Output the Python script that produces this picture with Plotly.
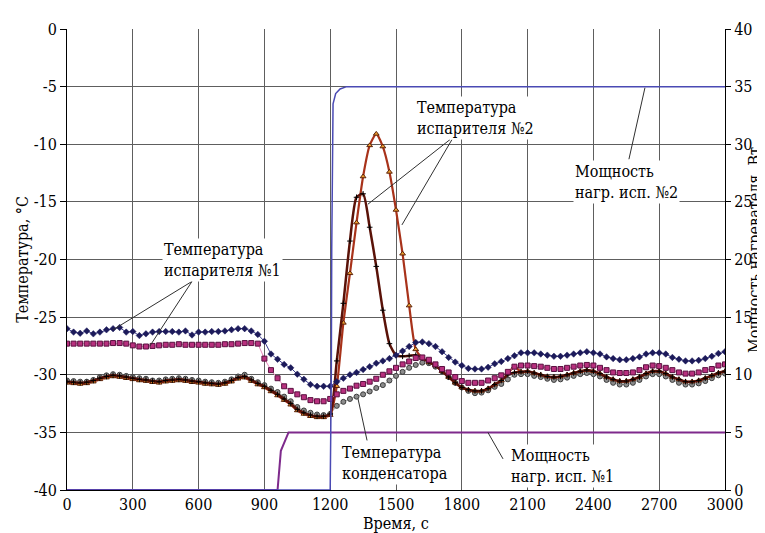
import plotly.graph_objects as go

# ---------------- data ----------------
time_s = list(range(0, 3001, 30))

evap1_a = [
    -26.0, -26.3, -26.4, -26.2, -26.45, -26.3, -26.1, -26.0, -25.9, -26.3,
    -26.25, -26.6, -26.45, -26.3, -26.25, -26.25, -26.25, -26.3, -26.2, -26.55,
    -26.3, -26.3, -26.25, -26.25, -26.2, -26.1, -26.0, -26.0, -26.2, -26.5,
    -27.1, -28.2, -28.65, -29.1, -29.4, -29.95, -30.4, -30.85, -31.0, -31.0,
    -31.0, -30.6, -30.3, -30.0, -29.8, -29.55, -29.3, -29.0, -28.8, -28.6,
    -28.3, -27.95, -27.55, -27.2, -27.15, -27.3, -27.55, -28.0, -28.5, -28.9,
    -29.2, -29.45, -29.5, -29.5, -29.35, -29.05, -28.85, -28.6, -28.35, -28.1,
    -28.1, -28.1, -28.2, -28.3, -28.4, -28.4, -28.3, -28.2, -28.1, -28.0,
    -28.1, -28.2, -28.45, -28.6, -28.7, -28.7, -28.6, -28.45, -28.2, -28.1,
    -28.1, -28.2, -28.5, -28.65, -28.8, -28.8, -28.75, -28.6, -28.4, -28.15,
    -28.0,
]

evap1_b = [
    -27.3, -27.3, -27.3, -27.3, -27.3, -27.3, -27.3, -27.25, -27.25, -27.3,
    -27.45, -27.55, -27.55, -27.5, -27.45, -27.4, -27.4, -27.35, -27.4, -27.4,
    -27.4, -27.4, -27.4, -27.4, -27.35, -27.35, -27.3, -27.25, -27.25, -27.3,
    -28.6, -29.6, -30.3, -31.0, -31.4, -31.7, -31.95, -32.2, -32.3, -32.3,
    -32.1, -31.7, -31.4, -31.2, -30.95, -30.8, -30.6, -30.35, -30.0, -29.7,
    -29.4, -29.1, -28.85, -28.55, -28.5, -28.7, -29.1, -29.5, -29.8, -30.2,
    -30.55, -30.7, -30.7, -30.7, -30.5, -30.3, -30.05, -29.75, -29.3, -29.2,
    -29.2, -29.25, -29.3, -29.4, -29.5, -29.5, -29.4, -29.3, -29.2, -29.15,
    -29.2, -29.4, -29.6, -29.8, -29.85, -29.85, -29.8, -29.6, -29.35, -29.2,
    -29.25, -29.4, -29.6, -29.8, -29.9, -29.9, -29.8, -29.6, -29.5, -29.2,
    -29.1,
]

evap2_a = [
    -30.6, -30.65, -30.7, -30.65, -30.5, -30.3, -30.15, -30.05, -30.1, -30.2,
    -30.3, -30.4, -30.45, -30.55, -30.6, -30.5, -30.45, -30.4, -30.45, -30.55,
    -30.6, -30.7, -30.75, -30.8, -30.7, -30.5, -30.25, -30.15, -30.45, -30.75,
    -31.0, -31.35, -31.7, -32.1, -32.5, -33.0, -33.3, -33.5, -33.6, -33.6,
    -33.4, -28.8, -23.8, -18.4, -14.6, -14.3, -17.2, -20.6, -24.4, -27.3,
    -28.3, -28.4, -28.35, -28.3, -28.55, -28.9, -29.2, -29.7, -30.2, -30.7,
    -31.1, -31.3, -31.4, -31.4, -31.2, -30.85, -30.5, -30.0, -29.8, -29.75,
    -29.7, -29.85, -30.0, -30.15, -30.2, -30.15, -30.0, -29.85, -29.7, -29.6,
    -29.7, -29.9, -30.2, -30.4, -30.55, -30.55, -30.4, -30.2, -29.9, -29.7,
    -29.7, -29.9, -30.2, -30.4, -30.6, -30.6, -30.5, -30.3, -30.07, -29.85,
    -29.7,
]

evap2_b = [
    -30.7, -30.75, -30.8, -30.75, -30.6, -30.4, -30.25, -30.15, -30.2, -30.3,
    -30.4, -30.5, -30.55, -30.65, -30.7, -30.6, -30.55, -30.5, -30.55, -30.65,
    -30.7, -30.8, -30.85, -30.9, -30.8, -30.6, -30.35, -30.25, -30.55, -30.85,
    -31.1, -31.45, -31.8, -32.2, -32.6, -33.1, -33.4, -33.6, -33.7, -33.7,
    -33.5, -31.0, -25.5, -21.2, -16.8, -12.8, -10.1, -9.1, -10.2, -12.4,
    -15.7, -19.5, -24.0, -27.8, -28.55, -28.9, -29.2, -29.7, -30.2, -30.7,
    -31.1, -31.3, -31.4, -31.4, -31.2, -30.85, -30.5, -29.9, -29.3, -29.75,
    -29.7, -29.85, -30.0, -30.15, -30.2, -30.15, -30.0, -29.85, -29.7, -29.6,
    -29.7, -29.9, -30.2, -30.4, -30.55, -30.55, -30.4, -30.2, -29.9, -29.7,
    -29.7, -29.9, -30.2, -30.4, -30.6, -30.6, -30.5, -30.3, -30.07, -29.85,
    -29.7,
]

condenser = [
    -30.5, -30.55, -30.6, -30.6, -30.45, -30.2, -30.05, -29.95, -30.0, -30.1,
    -30.2, -30.3, -30.35, -30.5, -30.5, -30.4, -30.35, -30.3, -30.35, -30.45,
    -30.5, -30.6, -30.65, -30.7, -30.6, -30.4, -30.15, -30.0, -30.35, -30.65,
    -30.9, -31.2, -31.5, -31.9, -32.3, -32.8, -33.1, -33.3, -33.45, -33.5,
    -33.4, -32.7, -32.35, -32.1, -31.9, -31.7, -31.45, -31.15, -30.9, -30.5,
    -30.1, -29.75, -29.4, -29.15, -28.95, -29.0, -29.3, -29.7, -30.2, -30.7,
    -31.1, -31.4, -31.6, -31.55, -31.35, -31.05, -30.8, -30.4, -30.0, -29.95,
    -29.95, -30.1, -30.2, -30.35, -30.45, -30.4, -30.25, -30.1, -29.95, -29.85,
    -29.95, -30.15, -30.45, -30.7, -30.85, -30.85, -30.7, -30.45, -30.15, -29.95,
    -29.95, -30.15, -30.45, -30.7, -30.85, -30.85, -30.75, -30.55, -30.3, -30.05,
    -29.9,
]

power1_t = [0, 960, 975, 1010, 3000]
power1_w = [0, 0, 3.4, 5, 5]

power2_t = [0, 1200, 1205, 1207, 1213, 1225, 1245, 1275, 3000]
power2_w = [0, 0, 10, 21, 33.5, 34.4, 34.8, 35, 35]

x_ticks = list(range(0, 3001, 300))
y_ticks = [-40, -35, -30, -25, -20, -15, -10, -5, 0]
y_tick_labels = ["-40", "-35", "-30", "-25", "-20", "-15", "-10", "-5", "0"]
y2_ticks = [0, 5, 10, 15, 20, 25, 30, 35, 40]

FONT = "DejaVu Serif Condensed, DejaVu Serif"
FS = 16

fig = go.Figure()

fig.add_trace(go.Scatter(x=power1_t, y=power1_w, yaxis="y2", mode="lines",
                         line=dict(color="#7e2a8c", width=2), showlegend=False))
fig.add_trace(go.Scatter(x=power2_t, y=power2_w, yaxis="y2", mode="lines",
                         line=dict(color="#4a4ab4", width=1.5), showlegend=False))

fig.add_trace(go.Scatter(x=time_s, y=condenser, mode="lines+markers",
                         line=dict(color="#a8a8a8", width=1),
                         marker=dict(symbol="circle", size=5, color="#8c8c8c",
                                     line=dict(color="#3c3c3c", width=1)),
                         showlegend=False))
fig.add_trace(go.Scatter(x=time_s, y=evap2_b, mode="lines+markers",
                         line=dict(color="#a8321a", width=2.2, shape="spline", smoothing=0.6),
                         marker=dict(symbol="triangle-up", size=5, color="#f0a030",
                                     line=dict(color="#5a2008", width=1)),
                         showlegend=False))
fig.add_trace(go.Scatter(x=time_s, y=evap2_a, mode="lines+markers",
                         line=dict(color="#5a1208", width=2.5, shape="spline", smoothing=0.6),
                         marker=dict(symbol="cross-thin", size=4, color="#000000",
                                     line=dict(color="#000000", width=1)),
                         showlegend=False))
fig.add_trace(go.Scatter(x=time_s, y=evap1_b, mode="lines+markers",
                         line=dict(color="#e888bc", width=1),
                         marker=dict(symbol="square", size=5, color="#b8307e",
                                     line=dict(color="#5a1040", width=1)),
                         showlegend=False))
fig.add_trace(go.Scatter(x=time_s, y=evap1_a, mode="lines+markers",
                         line=dict(color="#3a3a8c", width=1),
                         marker=dict(symbol="diamond", size=5, color="#1c1a5a",
                                     line=dict(color="#1c1a5a", width=0.5)),
                         showlegend=False))

# leader lines (data coordinates)
leaders = [
    (1746, -9.6, 1372, -15.2),
    (1755, -9.6, 1527, -17.0),
    (2562, -11.3, 2635, -5.1),
    (570, -21.9, 210, -26.1),
    (570, -21.9, 378, -27.5),
    (1368, -35.7, 1327, -32.1),
    (1988, -37.3, 1919, -35.0),
]
for x0, y0, x1, y1 in leaders:
    fig.add_shape(type="line", xref="x", yref="y", x0=x0, y0=y0, x1=x1, y1=y1,
                  line=dict(color="#303030", width=1), layer="above")

labels = [
    (1587, -7.74, "Температура<br>испарителя №2"),
    (2307, -13.28, "Мощность<br>нагр. исп. №2"),
    (433, -20.0, "Температура<br>испарителя №1"),
    (1245, -37.66, "Температура<br>конденсатора"),
    (2015, -37.96, "Мощность<br>нагр. исп. №1"),
]
for x, y, txt in labels:
    fig.add_annotation(x=x, y=y, xref="x", yref="y", text=txt, showarrow=False,
                       xanchor="left", yanchor="middle", align="left",
                       bgcolor="white", borderpad=1,
                       font=dict(family=FONT, size=FS, color="black"))

# axis titles
fig.add_annotation(x=0.5, y=-0.073, xref="paper", yref="paper", text="Время, с",
                   showarrow=False, xanchor="center", yanchor="middle",
                   font=dict(family=FONT, size=FS, color="black"))
fig.add_annotation(x=-0.068, y=0.5, xref="paper", yref="paper", text="Температура, °С",
                   showarrow=False, textangle=-90, xanchor="center", yanchor="middle",
                   font=dict(family=FONT, size=FS, color="black"))
fig.add_annotation(x=1.045, y=0.52, xref="paper", yref="paper", text="Мощность нагревателя, Вт",
                   showarrow=False, textangle=-90, xanchor="center", yanchor="middle",
                   font=dict(family=FONT, size=FS, color="black"))

grid = "#5e5e5e"
fig.update_layout(
    width=757, height=525,
    margin=dict(l=59, r=40, t=12, b=43),
    paper_bgcolor="white", plot_bgcolor="white",
    font=dict(family=FONT, size=FS, color="black"),
    xaxis=dict(range=[0, 3000], tickvals=x_ticks, showgrid=True, gridcolor=grid, gridwidth=1,
               showline=True, linecolor="black", linewidth=1, zeroline=False,
               ticks="", tickfont=dict(family=FONT, size=FS, color="black")),
    yaxis=dict(range=[-40, 0], tickvals=y_ticks, ticktext=y_tick_labels, showgrid=True,
               gridcolor=grid, gridwidth=1, showline=True, linecolor="black", linewidth=1,
               zeroline=False, ticks="outside", ticklen=6, tickcolor="black",
               tickfont=dict(family=FONT, size=FS, color="black")),
    yaxis2=dict(range=[0, 40], tickvals=y2_ticks, overlaying="y", side="right",
                showgrid=False, showline=True, linecolor="black", linewidth=1,
                zeroline=False, ticks="outside", ticklen=5, tickcolor="black",
                tickfont=dict(family=FONT, size=FS, color="black")),
)

fig.write_html("out.html")
